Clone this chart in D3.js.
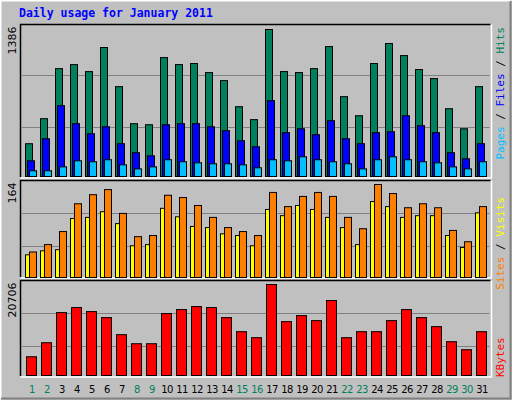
<!DOCTYPE html>
<html><head><meta charset="utf-8">
<script src="https://cdn.jsdelivr.net/npm/d3@7"></script>
<style>body{margin:0;background:#fff}svg{display:block}</style>
</head><body>
<script>
const days = d3.range(1, 32);
const weekend = [1,2,8,9,15,16,22,23,29,30];
const hits = [309,545,1017,1055,989,1216,847,498,488,1121,1055,1065,980,904,658,536,1386,989,980,1017,1225,753,573,1065,1254,1140,1008,923,639,450,847];
const files = [148,356,668,498,403,469,309,224,195,488,498,498,469,432,337,280,715,413,450,394,526,356,309,413,422,573,479,413,224,167,309];
const pages = [54,54,91,148,139,158,110,72,91,158,139,129,120,120,110,82,158,148,186,158,139,120,72,158,186,158,139,129,91,72,139];
const visits = [40,47,49,104,106,116,95,56,58,122,107,90,88,77,74,56,120,109,127,120,106,88,58,134,125,106,109,109,74,53,114];
const sites = [45,58,81,130,146,155,113,72,74,145,141,127,106,88,81,74,150,125,143,150,143,106,86,164,148,123,130,123,83,63,125];
const kbytes = [4263,7460,14311,15453,14540,13170,9287,7232,7232,14083,14997,15682,15453,13170,9972,8602,20706,12256,13626,12484,17052,8602,9972,9972,12484,14997,13170,11114,7689,5862,9972];
const maxLabels = ["1386","164","20706"];

const W=512,H=400;
const svg=d3.select("body").append("svg").attr("width",W).attr("height",H);
svg.append("rect").attr("width",W).attr("height",H).attr("fill","#c0c0c0");
svg.append("path").attr("d",`M0.5,${H-0.5}V0.5H${W-0.5}`).attr("stroke","#fff").attr("stroke-width",2).attr("fill","none");
svg.append("path").attr("d",`M1,${H-1.5}H${W-1.5}V1`).attr("stroke","#808080").attr("stroke-width",2).attr("fill","none");
svg.append("text").attr("x",19).attr("y",17).text("Daily usage for January 2011")
 .attr("font-family","DejaVu Sans Mono").attr("font-weight","bold").attr("font-size",11.5).attr("fill","#0000ff");

const x = d3.scaleLinear().domain([1,31]).range([25,475]);
const X0=20.5,X1=490.5;
const panels=[{t:24.5,b:177,y:d3.scaleLinear([0,1386],[176,29]),g:[75.5,127.5]},
 {t:180.5,b:277,y:d3.scaleLinear([0,164],[277,184]),g:[213.5,246.5]},
 {t:280.5,b:376,y:d3.scaleLinear([0,20706],[375,284]),g:[313.5,346.5]}];
panels.forEach((p,i)=>{
  svg.append("path").attr("d",`M${X0},${p.b}V${p.t}H${X1}`).attr("stroke","#000").attr("stroke-width",1.5).attr("fill","none");
  svg.append("path").attr("d",`M${X0},${p.b+1}H${X1+1}V${p.t}`).attr("stroke","#fff").attr("stroke-width",1.5).attr("fill","none");
  p.g.forEach(gy=>svg.append("line").attr("x1",X0+1).attr("x2",X1-1).attr("y1",gy).attr("y2",gy).attr("stroke","#808080"));
  svg.append("text").attr("transform",`translate(16,${p.t+2}) rotate(-90)`).attr("text-anchor","end")
   .attr("font-family","DejaVu Sans").attr("font-size",11).attr("fill","#000").text(maxLabels[i]);
});
function bars(data,pi,dx,w,color){
  const p=panels[pi];
  svg.append("g").selectAll("rect").data(data).join("rect")
   .attr("x",(d,i)=>x(i+1)+dx+0.5).attr("width",w).attr("y",d=>p.y(d)+0.5).attr("height",d=>p.y(0)-p.y(d))
   .attr("fill",color).attr("stroke","#000").attr("stroke-width",1);
}
bars(hits,0,0,7,"#00805c");
bars(files,0,2,7,"#0000ff");
bars(pages,0,4,7,"#00c0ff");
bars(visits,1,0,7,"#ffff00");
bars(sites,1,4,7,"#ff8000");
bars(kbytes,2,1,10,"#ff0000");

svg.append("g").selectAll("text").data(days).join("text")
 .attr("x",d=>x(d)+7).attr("y",393).attr("text-anchor","middle")
 .attr("font-family","DejaVu Sans").attr("font-size",10).attr("letter-spacing",-0.6)
 .attr("fill",d=>weekend.includes(d)?"#00805c":"#000").text(d=>d);

function side(y,anchor,parts){
  const t=svg.append("text").attr("transform",`translate(504,${y}) rotate(-90)`).attr("text-anchor",anchor)
   .attr("font-family","DejaVu Sans Mono").attr("font-size",11);
  parts.forEach(([s,c])=>t.append("tspan").attr("fill",c).text(s));
}
side(27,"end",[["Pages","#00c0ff"],[" / ","#000"],["Files","#0000ff"],[" / ","#000"],["Hits","#00805c"]]);
side(197,"end",[["Sites","#ff8000"],[" / ","#000"],["Visits","#ffff00"]]);
side(377,"start",[["KBytes","#ff0000"]]);
</script>
</body></html>
